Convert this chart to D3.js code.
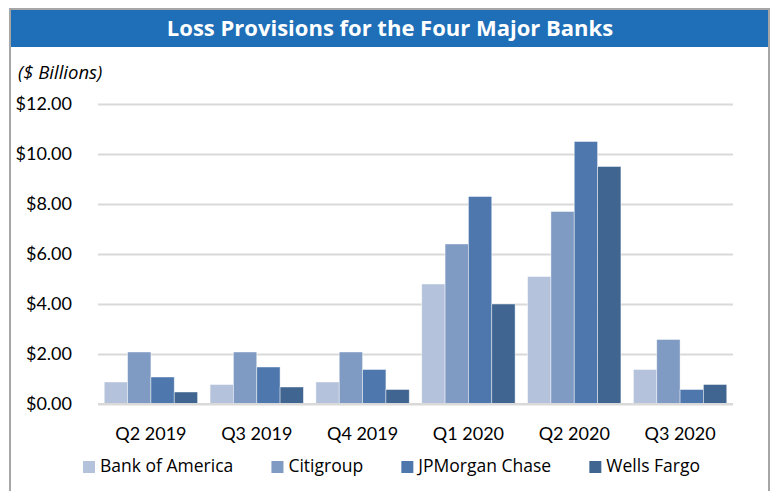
<!DOCTYPE html>
<html>
<head>
<meta charset="utf-8">
<script src="https://cdn.jsdelivr.net/npm/d3@7"></script>
<style>
  body { margin: 0; background: #fff; }
  text { font-family: Lato, "Open Sans", sans-serif; fill: #000; }
</style>
</head>
<body>
<div id="chart"></div>
<script>
const quarters = ['Q2 2019', 'Q3 2019', 'Q4 2019', 'Q1 2020', 'Q2 2020', 'Q3 2020'];
const banks = ['Bank of America', 'Citigroup', 'JPMorgan Chase', 'Wells Fargo'];
const bankOfAmerica = [0.88, 0.78, 0.88, 4.8, 5.1, 1.38];
const citigroup = [2.08, 2.08, 2.08, 6.4, 7.7, 2.58];
const jpMorgan = [1.08, 1.48, 1.38, 8.3, 10.5, 0.58];
const wellsFargo = [0.48, 0.68, 0.58, 4.0, 9.5, 0.78];
const yTickValues = [0, 2, 4, 6, 8, 10, 12];

const seriesValues = [bankOfAmerica, citigroup, jpMorgan, wellsFargo];
const colors = ['#b4c2dc', '#7f9ac3', '#4e78ad', '#3f6590'];

const width = 771, height = 491;
const margin = {top: 104, right: 38, bottom: 87, left: 98};
const innerWidth = width - margin.left - margin.right;
const innerHeight = height - margin.top - margin.bottom;

const svg = d3.select('#chart').append('svg')
  .attr('width', width)
  .attr('height', height);

// frame + title bar
svg.append('rect')
  .attr('x', 10).attr('y', 9)
  .attr('width', 759).attr('height', 520)
  .attr('fill', '#fff')
  .attr('stroke', '#a6a6a6')
  .attr('stroke-width', 2);

svg.append('rect')
  .attr('x', 11).attr('y', 10)
  .attr('width', 757).attr('height', 37)
  .attr('fill', '#1e6fb7');

const title = svg.append('text')
  .attr('x', 390).attr('y', 36)
  .attr('text-anchor', 'middle')
  .style('fill', '#fff')
  .style('font-family', '"Open Sans", sans-serif')
  .style('font-weight', 'bold')
  .style('font-size', '20px')
  .text('Loss Provisions for the Four Major Banks');
// fit title to the width it has in the original (~449px)
const titleLen = title.node().getComputedTextLength();
title.style('font-size', Math.min(22, 20 * 449 / titleLen) + 'px');

svg.append('text')
  .attr('x', 18).attr('y', 79)
  .style('font-family', '"Open Sans", sans-serif')
  .style('font-style', 'italic')
  .style('font-size', '18.5px')
  .text('($ Billions)');

const g = svg.append('g')
  .attr('transform', `translate(${margin.left},${margin.top})`);

const xScale = d3.scaleBand()
  .domain(quarters)
  .range([0, innerWidth])
  .paddingInner(0.118)
  .paddingOuter(0.059);

const xInner = d3.scaleBand()
  .domain(banks)
  .range([0, xScale.bandwidth()]);

const yScale = d3.scaleLinear()
  .domain([0, 12])
  .range([innerHeight, 0]);

const yAxis = d3.axisLeft(yScale)
  .tickValues(yTickValues)
  .tickFormat(d => '$' + d3.format('.2f')(d))
  .tickSize(-innerWidth)
  .tickPadding(26);

const yAxisG = g.append('g').call(yAxis)
  .attr('font-family', 'Lato, sans-serif')
  .attr('font-size', 18);
yAxisG.select('.domain').remove();
yAxisG.selectAll('line')
  .attr('stroke', '#d9d9d9')
  .attr('stroke-width', 2);
yAxisG.selectAll('text')
  .attr('fill', '#000');

const xAxis = d3.axisBottom(xScale)
  .tickSize(0)
  .tickPadding(23);

const xAxisG = g.append('g')
  .attr('transform', `translate(0,${innerHeight})`)
  .call(xAxis)
  .attr('font-family', 'Lato, sans-serif')
  .attr('font-size', 18);
xAxisG.select('.domain').remove();
xAxisG.selectAll('text')
  .attr('fill', '#000');

// bars
const groups = g.selectAll('.group')
  .data(quarters)
  .enter().append('g')
  .attr('class', 'group')
  .attr('transform', d => `translate(${xScale(d)},0)`);

groups.selectAll('rect')
  .data((q, i) => banks.map((b, j) => ({bank: b, value: seriesValues[j][i], color: colors[j]})))
  .enter().append('rect')
  .attr('x', d => xInner(d.bank))
  .attr('y', d => yScale(d.value))
  .attr('width', xInner.bandwidth())
  .attr('height', d => innerHeight - yScale(d.value))
  .attr('fill', d => d.color)
  .attr('stroke', 'rgba(255,255,255,0.55)')
  .attr('stroke-width', 0.8);

// baseline gridline over bar bottoms
g.append('line')
  .attr('x1', 0).attr('x2', innerWidth)
  .attr('y1', innerHeight).attr('y2', innerHeight)
  .attr('stroke', '#d9d9d9')
  .attr('stroke-width', 2);

// legend, spread between x=83 and x=700 like the original
const legend = svg.append('g');
const items = legend.selectAll('g')
  .data(banks)
  .enter().append('g');

items.append('rect')
  .attr('width', 12).attr('height', 12)
  .attr('y', 461)
  .attr('fill', (d, i) => colors[i]);

items.append('text')
  .attr('x', 17)
  .attr('y', 472)
  .style('font-family', '"Open Sans", sans-serif')
  .style('font-size', '17.5px')
  .text(d => d);

const widths = [];
items.each(function () { widths.push(this.getBBox().width); });
const gap = (700 - 83 - d3.sum(widths)) / (banks.length - 1);
let xPos = 83;
items.each(function (d, i) {
  d3.select(this).attr('transform', `translate(${xPos},0)`);
  xPos += widths[i] + gap;
});
</script>
</body>
</html>
